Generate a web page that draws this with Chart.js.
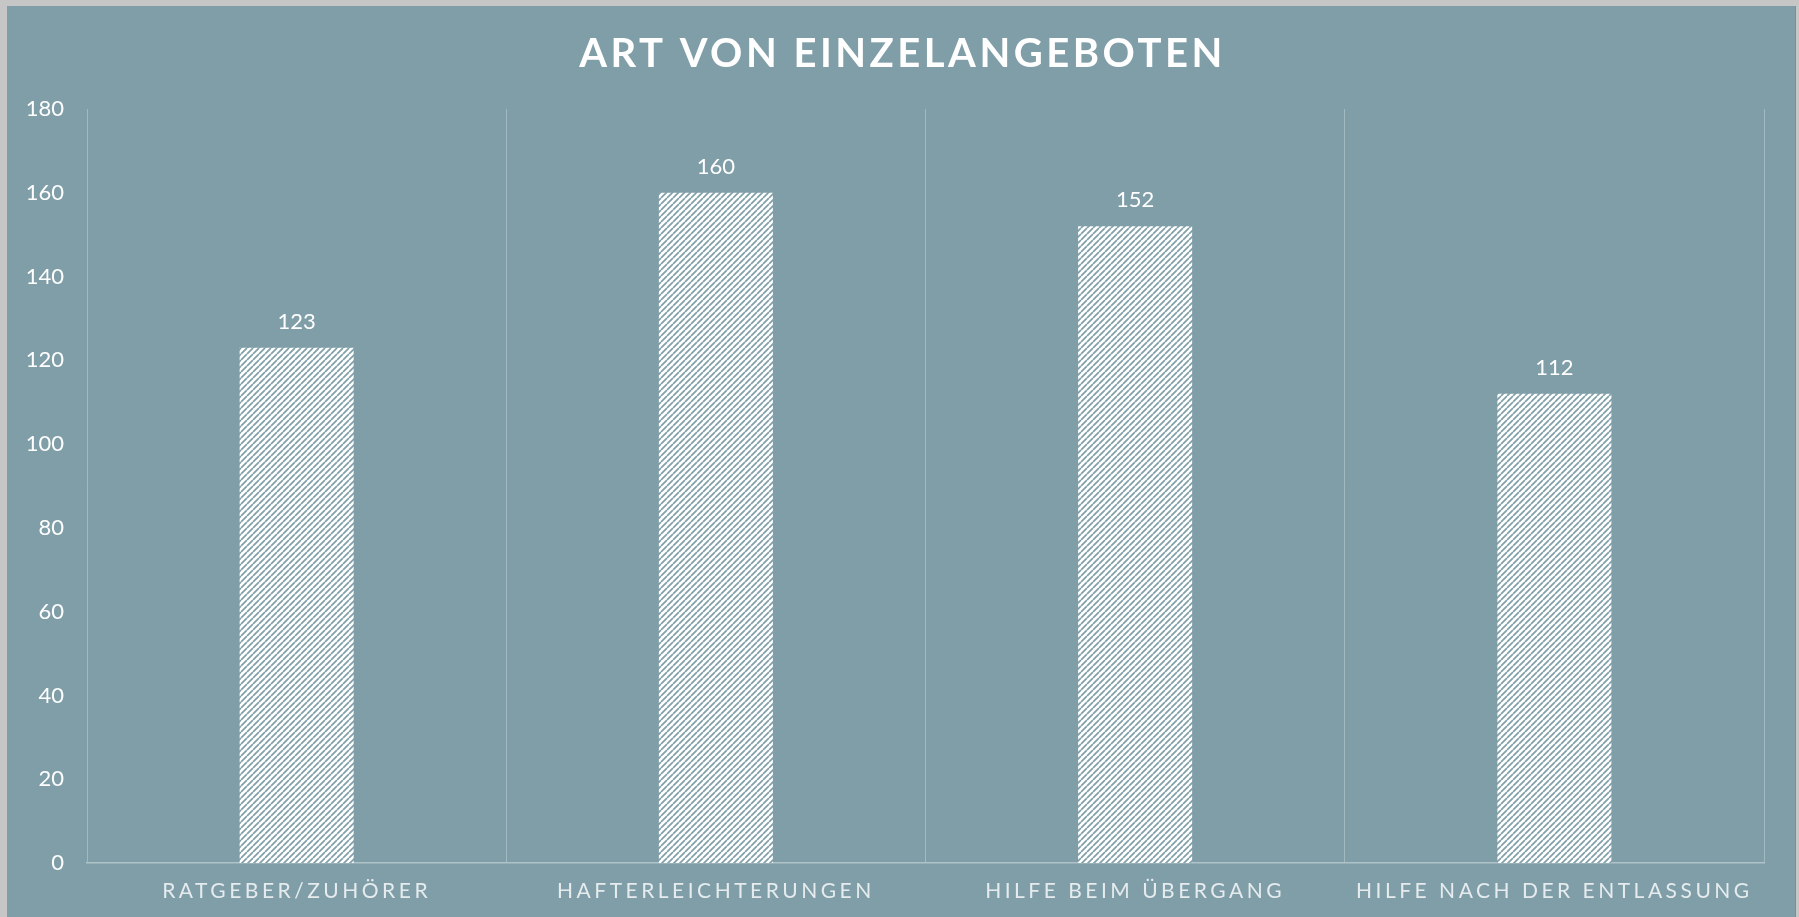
<!DOCTYPE html>
<html>
<head>
<meta charset="utf-8">
<script src="https://cdn.jsdelivr.net/npm/chart.js@4"></script>
<style>
  html, body { margin: 0; padding: 0; background: #c6c6c6; width: 1799px; height: 917px; overflow: hidden; }
  #wrap { position: absolute; left: 7px; top: 6px; width: 1788px; height: 911px; background: #7f9ea8; border-right: 1px solid #8a8a8a; }
</style>
</head>
<body>
<div id="wrap"><canvas id="c"></canvas></div>
<script>
const categories = ["RATGEBER/ZUHÖRER", "HAFTERLEICHTERUNGEN", "HILFE BEIM ÜBERGANG", "HILFE NACH DER ENTLASSUNG"];
const values = [123, 160, 152, 112];
const chartTitle = "ART VON EINZELANGEBOTEN";
const yMin = 0, yMax = 180, yStep = 20;

const GRID = 'rgba(255,255,255,0.28)';

function makePattern() {
  const s = 6;
  const p = document.createElement('canvas');
  p.width = s; p.height = s;
  const g = p.getContext('2d');
  g.fillStyle = '#ffffff';
  g.fillRect(0, 0, s, s);
  g.strokeStyle = '#819fa9';
  g.lineWidth = 1.7;
  g.beginPath();
  for (let k = -1; k <= 1; k++) {
    g.moveTo(k * s, s);
    g.lineTo(k * s + s, 0);
  }
  g.stroke();
  return document.getElementById('c').getContext('2d').createPattern(p, 'repeat');
}

const letterSpacingPlugin = {
  id: 'ls',
  afterLayout(chart) {
    const sx = chart.scales.x;
    if (sx && !sx._lsWrapped) {
      const orig = sx.drawLabels;
      sx.drawLabels = function (a) {
        const c = this.ctx; c.save(); c.letterSpacing = '3.5px'; orig.call(this, a); c.restore();
      };
      sx._lsWrapped = true;
    }
    const t = chart.titleBlock;
    if (t && !t._lsWrapped) {
      const origT = t.draw;
      t.draw = function (a) {
        const c = this.ctx; c.save(); c.letterSpacing = '3.5px'; c.translate(17, 0); origT.call(this, a); c.restore();
      };
      t._lsWrapped = true;
    }
  }
};

const valueLabels = {
  id: 'valueLabels',
  afterDatasetsDraw(chart) {
    const ctx = chart.ctx;
    const meta = chart.getDatasetMeta(0);
    ctx.save();
    ctx.font = '22px Lato';
    ctx.fillStyle = '#ffffff';
    ctx.textAlign = 'center';
    ctx.textBaseline = 'middle';
    meta.data.forEach((bar, i) => {
      ctx.fillText(String(chart.data.datasets[0].data[i]), bar.x, bar.y - 26);
    });
    ctx.restore();
  }
};

new Chart(document.getElementById('c'), {
  type: 'bar',
  data: {
    labels: categories,
    datasets: [{
      data: values,
      backgroundColor: makePattern(),
      borderWidth: 0,
      barPercentage: 0.272,
      categoryPercentage: 1
    }]
  },
  options: {
    responsive: true,
    maintainAspectRatio: false,
    animation: false,
    layout: { padding: { left: 0, right: 31, top: 0, bottom: 0 } },
    plugins: {
      legend: { display: false },
      tooltip: { enabled: false },
      title: {
        display: true,
        text: chartTitle,
        color: '#ffffff',
        font: { family: 'Lato', size: 40, weight: 'bold', lineHeight: 1.2 },
        padding: { top: 24, bottom: 31 }
      }
    },
    scales: {
      x: {
        type: 'category',
        offset: true,
        grid: { display: true, offset: true, color: GRID, lineWidth: 1, drawTicks: false },
        border: { display: true, color: 'rgba(255,255,255,0.38)', width: 1.5 },
        ticks: { color: '#e6ecee', font: { family: 'Lato', size: 21 }, padding: 16, maxRotation: 0, autoSkip: false },
        afterFit(scale) { scale.height = 54; }
      },
      y: {
        min: yMin,
        max: yMax,
        grid: { display: false, drawTicks: false },
        border: { display: false },
        ticks: { stepSize: yStep, color: '#ffffff', font: { family: 'Lato', size: 22 }, padding: 23 },
        afterFit(scale) { scale.width = 80; }
      }
    }
  },
  plugins: [letterSpacingPlugin, valueLabels]
});
</script>
</body>
</html>
